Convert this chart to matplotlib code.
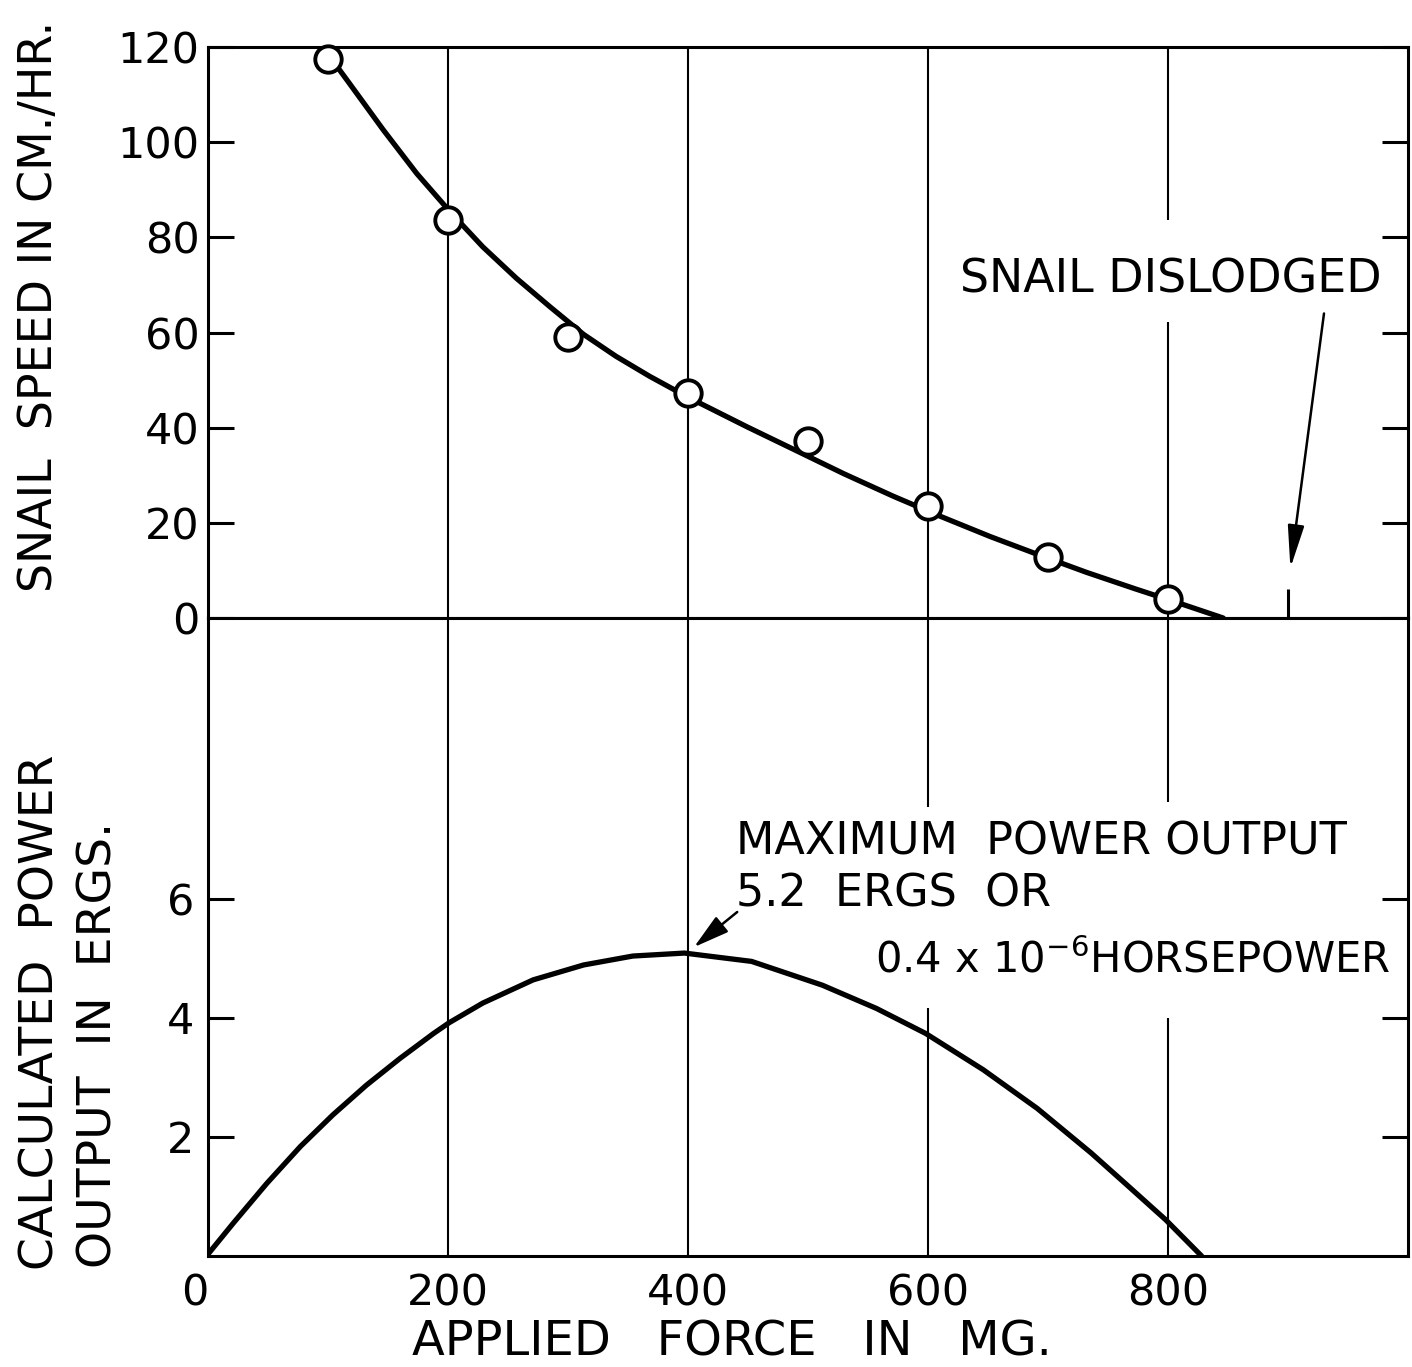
import matplotlib
matplotlib.use("Agg")
import matplotlib.pyplot as plt

# ---------------- data ----------------
obs_force = [100, 200, 300, 400, 500, 600, 700, 800]
obs_speed = [117.5, 83.6, 59.1, 47.3, 37.2, 23.5, 12.8, 4.0]

speed_curve_force = [100, 118, 146, 174, 202, 229, 257, 285, 313, 340, 368, 400, 449, 490,
                     530, 571, 611, 652, 692, 732, 773, 813, 846]
speed_curve_speed = [118.5, 112.3, 102.6, 93.4, 85.3, 78.0, 71.4, 65.4, 59.6, 55.0, 50.8, 46.4,
                     40.2, 35.2, 30.3, 25.6, 21.3, 17.1, 13.3, 9.6, 6.1, 2.8, 0.0]

power_force = [0, 21, 49, 77, 104, 132, 160, 188, 201, 229, 271, 313, 354, 397, 453, 512,
               557, 598, 646, 691, 736, 766, 798, 828]
power_ergs = [0.03, 0.55, 1.22, 1.84, 2.37, 2.87, 3.32, 3.74, 3.92, 4.25, 4.64, 4.89, 5.04,
              5.09, 4.95, 4.55, 4.16, 3.74, 3.13, 2.48, 1.73, 1.19, 0.61, 0.0]

dislodged_force = 900
max_power_force = 400
max_power_value = 5.09

x_ticks = [0, 200, 400, 600, 800]
x_tick_labels = ["0", "200", "400", "600", "800"]
speed_ticks = [0, 20, 40, 60, 80, 100, 120]
speed_tick_labels = ["0", "20", "40", "60", "80", "100", "120"]
power_ticks = [2, 4, 6]
power_tick_labels = ["2", "4", "6"]

# ---------------- figure ----------------
W, H = 1412, 1367
fig = plt.figure(figsize=(W / 100, H / 100), dpi=100)
plt.rcParams['font.family'] = ['DejaVu Sans']

def fx(px):
    return px / W

def fy(py):
    return 1 - py / H

ax1 = fig.add_axes([fx(208), fy(618), fx(1408) - fx(208), fy(47) - fy(618)])
ax2 = fig.add_axes([fx(208), fy(1256), fx(1408) - fx(208), fy(618) - fy(1256)])

K = 'black'
spine_lw = 2.2
grid_lw = 1.5

for ax in (ax1, ax2):
    ax.set_xlim(0, 1000)
    for s in ax.spines.values():
        s.set_linewidth(spine_lw)
        s.set_color(K)

ax1.set_ylim(0, 120)
ax2.set_ylim(0, 10.72)

# vertical grid lines (with breaks around lettering)
top_segments = {200: [(0, 120)], 400: [(0, 120)], 600: [(0, 120)], 800: [(0, 62.2), (83.6, 120)]}
bot_segments = {200: [(0, 10.72)], 400: [(0, 10.72)], 600: [(0, 4.17), (7.55, 10.72)],
                800: [(0, 4.0), (7.63, 10.72)]}
for xv, segs in top_segments.items():
    for a, b in segs:
        ax1.vlines(xv, a, b, color=K, lw=grid_lw, zorder=1)
for xv, segs in bot_segments.items():
    for a, b in segs:
        ax2.vlines(xv, a, b, color=K, lw=grid_lw, zorder=1)

# top panel: speed
ax1.plot(speed_curve_force, speed_curve_speed, color=K, lw=3.8, solid_capstyle='round',
         solid_joinstyle='round', zorder=3)
ax1.plot(obs_force, obs_speed, linestyle='none', marker='o', markersize=19,
         markerfacecolor='white', markeredgecolor=K, markeredgewidth=2.8, zorder=4, clip_on=False)

# dislodged mark
ax1.vlines(dislodged_force, 0, 6, color=K, lw=2.2, zorder=3)
ax1.annotate('', xy=(dislodged_force + 2, 10.5), xytext=(930, 64),
             arrowprops=dict(arrowstyle='-|>,head_width=0.25,head_length=1.3', mutation_scale=20,
                             lw=1.8, color=K, shrinkA=0, shrinkB=0))
ax1.text(627, 68.5, 'SNAIL DISLODGED', fontsize=33, ha='left', va='baseline', color=K)

# bottom panel: power
ax2.plot(power_force, power_ergs, color=K, lw=3.8, solid_capstyle='round',
         solid_joinstyle='round', zorder=3)
ax2.annotate('', xy=(max_power_force + 5, max_power_value + 0.1), xytext=(441, 5.78),
             arrowprops=dict(arrowstyle='-|>,head_width=0.3,head_length=1.1', mutation_scale=20,
                             lw=1.8, color=K, shrinkA=0, shrinkB=0))
ax2.text(440, 6.74, 'MAXIMUM  POWER OUTPUT', fontsize=32, ha='left', va='baseline', color=K)
ax2.text(440, 5.87, '5.2  ERGS  OR', fontsize=32, ha='left', va='baseline', color=K)
ax2.text(556, 4.76, r'0.4 x 10$^{-6}$HORSEPOWER', fontsize=30, ha='left', va='baseline', color=K)

# ticks
ax1.set_xticks(x_ticks)
ax1.tick_params(axis='x', which='both', length=0, labelbottom=False)
ax1.set_yticks(speed_ticks)
ax1.set_yticklabels(speed_tick_labels)
ax1.tick_params(axis='y', direction='in', length=19, width=2.2, left=True, right=True,
                labelsize=31, pad=6, colors=K)

ax2.set_xticks(x_ticks)
ax2.set_xticklabels(x_tick_labels)
ax2.tick_params(axis='x', length=0, labelsize=31, pad=12, colors=K)
xl = ax2.get_xticklabels()
xl[0].set_horizontalalignment('right')
ax2.set_yticks(power_ticks)
ax2.set_yticklabels(power_tick_labels)
ax2.tick_params(axis='y', direction='in', length=19, width=2.2, left=True, right=True,
                labelsize=31, pad=10, colors=K)

# axis labels
fig.text(fx(40), fy(306), 'SNAIL  SPEED IN CM./HR.', rotation=90, fontsize=33,
         ha='center', va='center', color=K)
fig.text(fx(41), fy(1270), 'CALCULATED  POWER', rotation=90, fontsize=34,
         ha='center', va='bottom', color=K)
fig.text(fx(99), fy(1268), 'OUTPUT  IN  ERGS.', rotation=90, fontsize=34,
         ha='center', va='bottom', color=K)
fig.text(fx(732), fy(1342), 'APPLIED   FORCE   IN   MG.', fontsize=34.5,
         ha='center', va='center', color=K)

fig.savefig('out.png', dpi=100, facecolor='white')
